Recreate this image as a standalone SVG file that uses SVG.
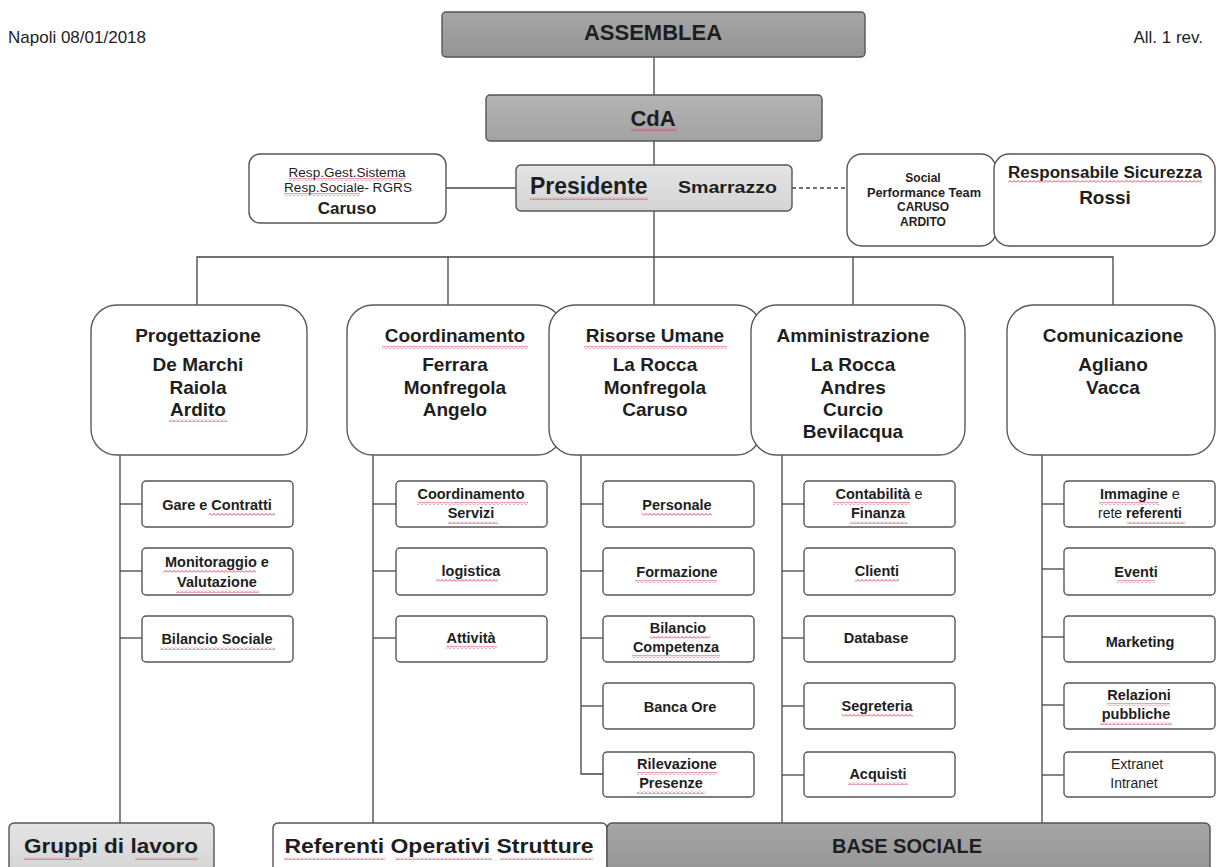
<svg xmlns="http://www.w3.org/2000/svg" width="1216" height="867" viewBox="0 0 1216 867">
<defs>
<pattern id="sq" width="4" height="3" patternUnits="userSpaceOnUse"><path d="M0 2.5 L2 0.5 L4 2.5" stroke="#d6304e" fill="none" stroke-width="0.9"/></pattern>
<linearGradient id="gDark" x1="0" y1="0" x2="0" y2="1"><stop offset="0" stop-color="#a6a6a6"/><stop offset="1" stop-color="#949494"/></linearGradient>
<linearGradient id="gMid" x1="0" y1="0" x2="0" y2="1"><stop offset="0" stop-color="#b4b4b4"/><stop offset="1" stop-color="#a2a2a2"/></linearGradient>
<linearGradient id="gLight" x1="0" y1="0" x2="0" y2="1"><stop offset="0" stop-color="#e4e4e4"/><stop offset="1" stop-color="#d4d4d4"/></linearGradient>
</defs>
<style>
text{font-family:"Liberation Sans",Arial,sans-serif;fill:#1e1e1e}
.c{text-anchor:middle}
.b{font-weight:bold}
.box{fill:#fff;stroke:#555;stroke-width:1.4}
.big{fill:#fff;stroke:#5a5a5a;stroke-width:1.4}
.sub{fill:#fff;stroke:#555;stroke-width:1.4}
.t{font-size:19px;font-weight:bold}
.s{font-size:14.5px;font-weight:bold}
.sr{font-size:14px}
.ln{stroke:#444;stroke-width:1.3;fill:none}
.sq{fill:url(#sq)}
</style>
<rect width="1216" height="867" fill="#fff"/>
<text x="8" y="43" font-size="17">Napoli 08/01/2018</text>
<text x="1203" y="43" font-size="17" text-anchor="end">All. 1 rev.</text>

<g id="connectors">
<line class="ln" x1="654" y1="57" x2="654" y2="95"/>
<line class="ln" x1="654" y1="141" x2="654" y2="165"/>
<line class="ln" x1="446" y1="188" x2="516" y2="188"/>
<line class="ln" x1="792" y1="188" x2="847" y2="188" stroke-dasharray="4 3"/>
<line class="ln" x1="654" y1="211" x2="654" y2="305"/>
<polyline class="ln" points="197,305 197,257 1113,257 1113,305"/>
<line class="ln" x1="448" y1="257" x2="448" y2="305"/>
<line class="ln" x1="853" y1="257" x2="853" y2="305"/>
<line class="ln" x1="120" y1="455" x2="120" y2="823"/>
<line class="ln" x1="120" y1="504" x2="142" y2="504"/>
<line class="ln" x1="120" y1="571" x2="142" y2="571"/>
<line class="ln" x1="120" y1="638" x2="142" y2="638"/>
<line class="ln" x1="373" y1="455" x2="373" y2="823"/>
<line class="ln" x1="373" y1="504" x2="396" y2="504"/>
<line class="ln" x1="373" y1="571" x2="396" y2="571"/>
<line class="ln" x1="373" y1="638" x2="396" y2="638"/>
<polyline class="ln" points="581,455 581,774 603,774"/>
<line class="ln" x1="581" y1="504" x2="603" y2="504"/>
<line class="ln" x1="581" y1="571" x2="603" y2="571"/>
<line class="ln" x1="581" y1="638" x2="603" y2="638"/>
<line class="ln" x1="581" y1="706" x2="603" y2="706"/>
<line class="ln" x1="782" y1="455" x2="782" y2="823"/>
<line class="ln" x1="782" y1="504" x2="804" y2="504"/>
<line class="ln" x1="782" y1="571" x2="804" y2="571"/>
<line class="ln" x1="782" y1="638" x2="804" y2="638"/>
<line class="ln" x1="782" y1="706" x2="804" y2="706"/>
<line class="ln" x1="782" y1="775" x2="804" y2="775"/>
<line class="ln" x1="1042" y1="455" x2="1042" y2="823"/>
<line class="ln" x1="1042" y1="504" x2="1064" y2="504"/>
<line class="ln" x1="1042" y1="569" x2="1064" y2="569"/>
<line class="ln" x1="1042" y1="637" x2="1064" y2="637"/>
<line class="ln" x1="1042" y1="705" x2="1064" y2="705"/>
<line class="ln" x1="1042" y1="775" x2="1064" y2="775"/>
</g>

<g id="assemblea">
<rect x="442" y="12" width="423" height="45" rx="4" fill="url(#gDark)" stroke="#555" stroke-width="1.4"/>
<text x="653" y="40" class="c b" font-size="22">ASSEMBLEA</text>
</g>
<g id="cda">
<rect x="486" y="95" width="336" height="46" rx="4" fill="url(#gMid)" stroke="#555" stroke-width="1.4"/>
<text x="653" y="126" class="c b" font-size="22">CdA</text>
<rect class="sq" x="631" y="128" width="46" height="3"/>
</g>
<g id="presidente">
<rect x="516" y="165" width="276" height="46" rx="5" fill="url(#gLight)" stroke="#555" stroke-width="1.4"/>
<text x="530" y="194" class="b" font-size="23">Presidente</text>
<rect class="sq" x="530" y="197" width="118" height="3"/>
<text x="678" y="193" class="b" font-size="17" textLength="99" lengthAdjust="spacingAndGlyphs">Smarrazzo</text>
</g>
<g id="resp-sistema">
<rect class="box" x="249" y="154" width="197" height="69" rx="11"/>
<text x="347" y="177" class="c" font-size="12" textLength="117" lengthAdjust="spacingAndGlyphs">Resp.Gest.Sistema</text>
<rect class="sq" x="289" y="178" width="116" height="3"/>
<text x="348" y="192" class="c" font-size="12" textLength="128" lengthAdjust="spacingAndGlyphs">Resp.Sociale- RGRS</text>
<rect class="sq" x="284" y="193" width="76" height="3"/>
<text x="347" y="214" class="c b" font-size="17">Caruso</text>
</g>
<g id="social-team">
<rect class="box" x="847" y="154" width="149" height="92" rx="15"/>
<text x="923" y="182" class="c b" font-size="12">Social</text>
<text x="924" y="197" class="c b" font-size="12" textLength="114" lengthAdjust="spacingAndGlyphs">Performance Team</text>
<text x="923" y="211" class="c b" font-size="12">CARUSO</text>
<text x="923" y="226" class="c b" font-size="12">ARDITO</text>
</g>
<g id="sicurezza">
<rect class="box" x="994" y="154" width="221" height="92" rx="15"/>
<text x="1105" y="178" class="c b" font-size="16" textLength="194" lengthAdjust="spacingAndGlyphs">Responsabile Sicurezza</text>
<rect class="sq" x="1008" y="180" width="194" height="3"/>
<text x="1105" y="204" class="c b" font-size="19">Rossi</text>
</g>

<g id="progettazione">
<rect class="big" x="91" y="305" width="216" height="150" rx="26"/>
<text x="198" y="342" class="c t">Progettazione</text>
<text x="198" y="371" class="c t">De Marchi</text>
<text x="198" y="394" class="c t">Raiola</text>
<text x="198" y="416" class="c t">Ardito</text>
<rect class="sq" x="169" y="419" width="58" height="3"/>
</g>
<g id="coordinamento">
<rect class="big" x="347" y="305" width="216" height="150" rx="26"/>
<text x="455" y="342" class="c t">Coordinamento</text>
<rect class="sq" x="382" y="346" width="146" height="3"/>
<text x="455" y="371" class="c t">Ferrara</text>
<text x="455" y="394" class="c t">Monfregola</text>
<text x="455" y="416" class="c t">Angelo</text>
</g>
<g id="risorse-umane">
<rect class="big" x="549" y="305" width="213" height="150" rx="26"/>
<text x="655" y="342" class="c t">Risorse Umane</text>
<rect class="sq" x="584" y="346" width="143" height="3"/>
<text x="655" y="371" class="c t">La Rocca</text>
<text x="655" y="394" class="c t">Monfregola</text>
<text x="655" y="416" class="c t">Caruso</text>
</g>
<g id="amministrazione">
<rect class="big" x="751" y="305" width="214" height="150" rx="26"/>
<text x="853" y="342" class="c t">Amministrazione</text>
<text x="853" y="371" class="c t">La Rocca</text>
<text x="853" y="394" class="c t">Andres</text>
<text x="853" y="416" class="c t">Curcio</text>
<text x="853" y="438" class="c t">Bevilacqua</text>
</g>
<g id="comunicazione">
<rect class="big" x="1007" y="305" width="208" height="150" rx="26"/>
<text x="1113" y="342" class="c t">Comunicazione</text>
<text x="1113" y="371" class="c t">Agliano</text>
<text x="1113" y="394" class="c t">Vacca</text>
</g>

<g id="gare-contratti">
<rect class="sub" x="142" y="481" width="151" height="46" rx="4"/>
<text x="217" y="510" class="c s">Gare e Contratti</text>
<rect class="sq" x="209" y="513" width="66" height="3"/>
</g>
<g id="monitoraggio">
<rect class="sub" x="142" y="548" width="151" height="47" rx="4"/>
<text x="217" y="567" class="c s">Monitoraggio e</text>
<rect class="sq" x="163" y="570" width="93" height="3"/>
<text x="217" y="587" class="c s">Valutazione</text>
<rect class="sq" x="176" y="590" width="83" height="3"/>
</g>
<g id="bilancio-sociale">
<rect class="sub" x="142" y="616" width="151" height="46" rx="4"/>
<text x="217" y="644" class="c s">Bilancio Sociale</text>
<rect class="sq" x="160" y="647" width="115" height="3"/>
</g>

<g id="coordinamento-servizi">
<rect class="sub" x="396" y="481" width="151" height="46" rx="4"/>
<text x="471" y="499" class="c s">Coordinamento</text>
<rect class="sq" x="417" y="502" width="111" height="3"/>
<text x="471" y="518" class="c s">Servizi</text>
<rect class="sq" x="448" y="521" width="50" height="3"/>
</g>
<g id="logistica">
<rect class="sub" x="396" y="548" width="151" height="47" rx="4"/>
<text x="471" y="576" class="c s">logistica</text>
<rect class="sq" x="436" y="579" width="62" height="3"/>
</g>
<g id="attivita">
<rect class="sub" x="396" y="616" width="151" height="46" rx="4"/>
<text x="471" y="643" class="c s">Attività</text>
<rect class="sq" x="446" y="646" width="51" height="3"/>
</g>

<g id="personale">
<rect class="sub" x="603" y="481" width="151" height="46" rx="4"/>
<text x="677" y="510" class="c s">Personale</text>
<rect class="sq" x="642" y="513" width="70" height="3"/>
</g>
<g id="formazione">
<rect class="sub" x="603" y="548" width="151" height="47" rx="4"/>
<text x="677" y="577" class="c s">Formazione</text>
<rect class="sq" x="635" y="580" width="82" height="3"/>
</g>
<g id="bilancio-competenza">
<rect class="sub" x="603" y="616" width="151" height="46" rx="4"/>
<text x="678" y="633" class="c s">Bilancio</text>
<rect class="sq" x="650" y="636" width="60" height="3"/>
<text x="676" y="652" class="c s">Competenza</text>
<rect class="sq" x="632" y="655" width="88" height="3"/>
</g>
<g id="banca-ore">
<rect class="sub" x="603" y="683" width="151" height="46" rx="4"/>
<text x="680" y="712" class="c s">Banca Ore</text>
</g>
<g id="rilevazione-presenze">
<rect class="sub" x="603" y="752" width="151" height="45" rx="4"/>
<text x="677" y="769" class="c s">Rilevazione</text>
<rect class="sq" x="637" y="772" width="80" height="3"/>
<text x="671" y="788" class="c s">Presenze</text>
<rect class="sq" x="637" y="791" width="68" height="3"/>
</g>

<g id="contabilita">
<rect class="sub" x="804" y="481" width="151" height="46" rx="4"/>
<text x="879" y="499" class="c s">Contabilità <tspan font-weight="normal">e</tspan></text>
<rect class="sq" x="833" y="502" width="77" height="3"/>
<text x="878" y="518" class="c s">Finanza</text>
<rect class="sq" x="850" y="521" width="57" height="3"/>
</g>
<g id="clienti">
<rect class="sub" x="804" y="548" width="151" height="47" rx="4"/>
<text x="877" y="576" class="c s">Clienti</text>
<rect class="sq" x="855" y="579" width="44" height="3"/>
</g>
<g id="database">
<rect class="sub" x="804" y="616" width="151" height="46" rx="4"/>
<text x="876" y="643" class="c s">Database</text>
</g>
<g id="segreteria">
<rect class="sub" x="804" y="683" width="151" height="46" rx="4"/>
<text x="877" y="711" class="c s">Segreteria</text>
<rect class="sq" x="842" y="714" width="71" height="3"/>
</g>
<g id="acquisti">
<rect class="sub" x="804" y="752" width="151" height="45" rx="4"/>
<text x="878" y="779" class="c s">Acquisti</text>
<rect class="sq" x="848" y="782" width="60" height="3"/>
</g>

<g id="immagine">
<rect class="sub" x="1064" y="481" width="151" height="46" rx="4"/>
<text x="1140" y="499" class="c s">Immagine <tspan font-weight="normal">e</tspan></text>
<rect class="sq" x="1099" y="502" width="60" height="3"/>
<text x="1140" y="518" class="c sr">rete <tspan font-weight="bold">referenti</tspan></text>
<rect class="sq" x="1127" y="521" width="58" height="3"/>
</g>
<g id="eventi">
<rect class="sub" x="1064" y="548" width="151" height="47" rx="4"/>
<text x="1136" y="577" class="c s">Eventi</text>
<rect class="sq" x="1117" y="580" width="38" height="3"/>
</g>
<g id="marketing">
<rect class="sub" x="1064" y="616" width="151" height="46" rx="4"/>
<text x="1140" y="647" class="c s">Marketing</text>
</g>
<g id="relazioni">
<rect class="sub" x="1064" y="683" width="151" height="46" rx="4"/>
<text x="1139" y="700" class="c s">Relazioni</text>
<rect class="sq" x="1107" y="703" width="63" height="3"/>
<text x="1136" y="719" class="c s">pubbliche</text>
<rect class="sq" x="1100" y="722" width="72" height="3"/>
</g>
<g id="extranet">
<rect class="sub" x="1064" y="752" width="151" height="45" rx="4"/>
<text x="1137" y="769" class="c sr">Extranet</text>
<text x="1134" y="788" class="c sr">Intranet</text>
</g>

<g id="gruppi-lavoro">
<rect x="9" y="823" width="205" height="52" rx="5" fill="url(#gLight)" stroke="#555" stroke-width="1.4"/>
<text x="111" y="853" class="c b" font-size="20" textLength="174" lengthAdjust="spacingAndGlyphs">Gruppi di lavoro</text>
<rect class="sq" x="24" y="857" width="58" height="3"/>
<rect class="sq" x="135" y="857" width="63" height="3"/>
</g>
<g id="referenti-operativi">
<rect x="273" y="823" width="334" height="52" rx="5" fill="#fff" stroke="#555" stroke-width="1.4"/>
<text x="439" y="853" class="c b" font-size="20" textLength="309" lengthAdjust="spacingAndGlyphs">Referenti Operativi Strutture</text>
<rect class="sq" x="284" y="857" width="101" height="3"/>
<rect class="sq" x="395" y="857" width="97" height="3"/>
<rect class="sq" x="500" y="857" width="93" height="3"/>
</g>
<g id="base-sociale">
<rect x="607" y="823" width="603" height="52" rx="5" fill="url(#gDark)" stroke="#555" stroke-width="1.4"/>
<text x="907" y="853" class="c b" font-size="20">BASE SOCIALE</text>
</g>
</svg>
